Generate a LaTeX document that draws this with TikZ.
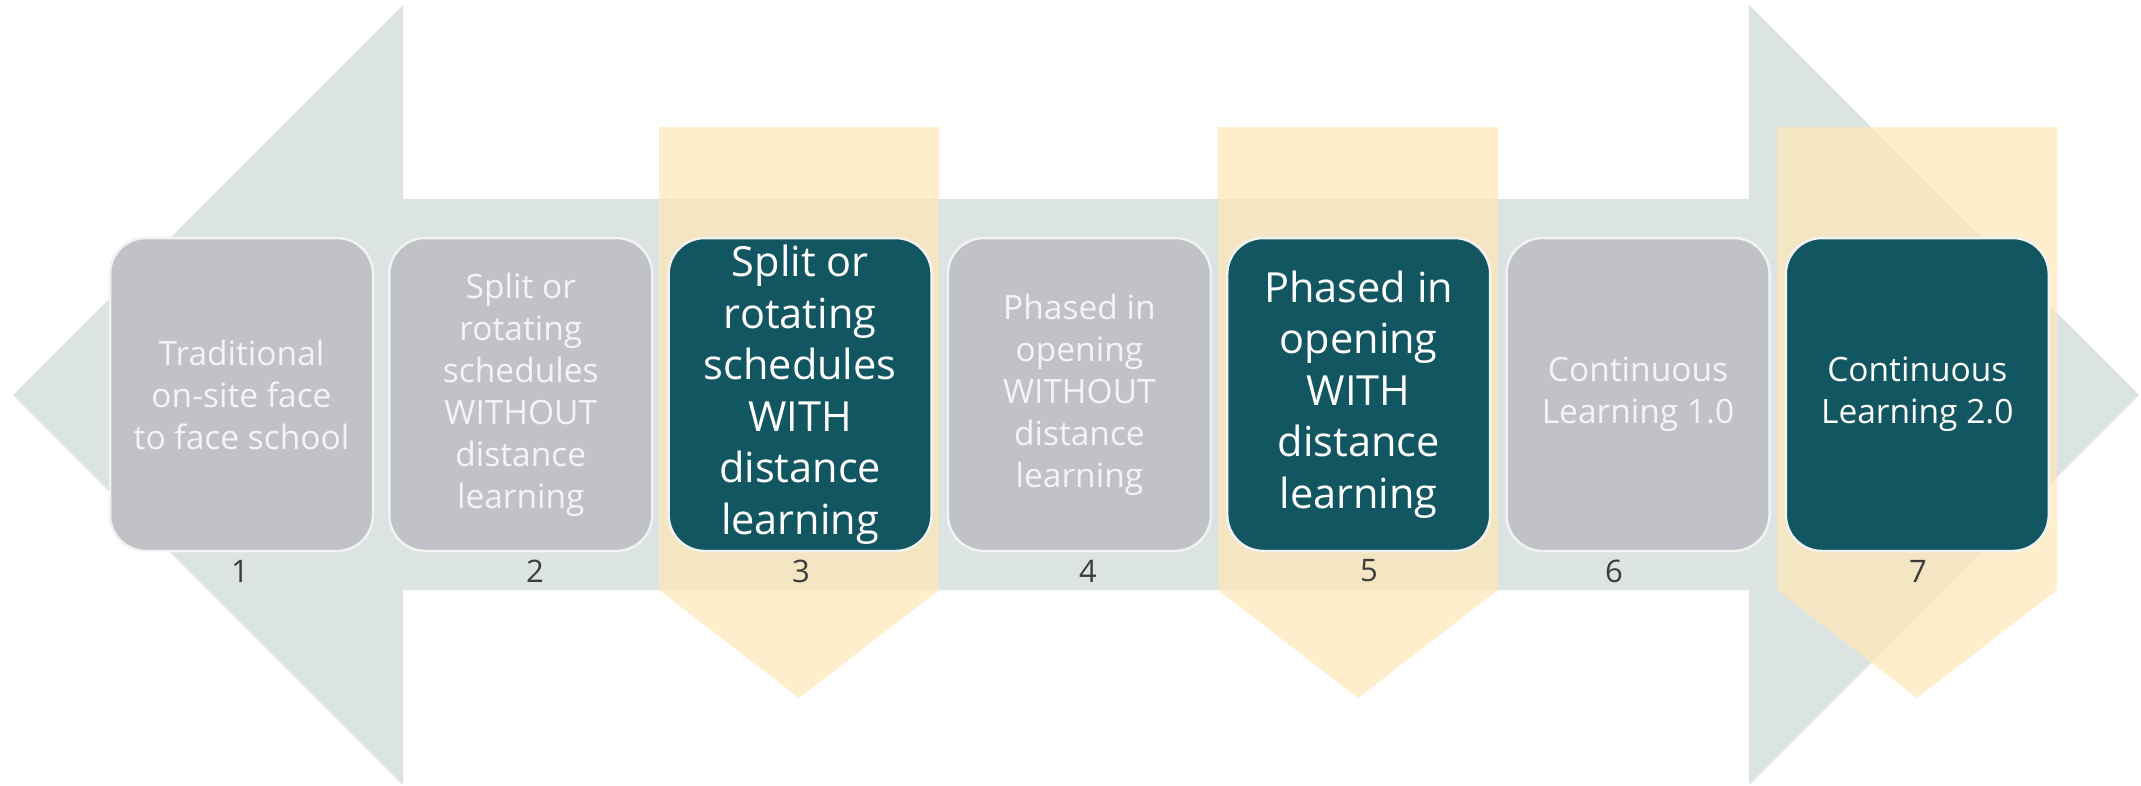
\documentclass[tikz,border=0pt]{standalone}
\usepackage{fontspec}
\setmainfont{Open Sans}
\definecolor{arrowgray}{RGB}{220,227,227}
\definecolor{boxgray}{RGB}{192,194,199}
\definecolor{boxteal}{RGB}{17,86,96}
\definecolor{boxedge}{RGB}{242,242,240}
\definecolor{paleyellow}{RGB}{255,232,182}
\definecolor{numgray}{RGB}{60,60,60}
\definecolor{graytext}{RGB}{244,244,244}
\tikzset{
  stage/.style={rounded corners=36pt, draw=boxedge, line width=2.5pt,
    minimum width=263pt, minimum height=313pt, inner sep=0pt, align=center,
    font=\fontsize{33.5}{42}\selectfont},
  lightstage/.style={stage, fill=boxgray, text=graytext},
  darkstage/.style={stage, fill=boxteal, text=white},
  bigtext/.style={font=\fontsize{41.5}{51.5}\selectfont},
  numlabel/.style={text=numgray, inner sep=0pt, font=\fontsize{31}{36}\selectfont},
  highlight/.style={fill=paleyellow, fill opacity=0.7, draw=none},
  bigarrow/.style={fill=arrowgray, draw=none}
}
\begin{document}
\begin{tikzpicture}[x=1pt,y=-1pt]
\useasboundingbox (0,0) rectangle (2141,785);
\fill[white] (0,0) rectangle (2141,785);
% double-headed background arrow
\path[bigarrow] (13,395) -- (403,5) -- (403,199) -- (1749,199) -- (1749,5)
  -- (2139,395) -- (1749,785) -- (1749,590) -- (403,590) -- (403,785) -- cycle;
% highlight pentagons
\path[highlight] (659,127) -- (939,127) -- (939,590) -- (799,698) -- (659,590) -- cycle;
\path[highlight] (1218,127) -- (1498,127) -- (1498,590) -- (1358,698) -- (1218,590) -- cycle;
\path[highlight] (1777,127) -- (2057,127) -- (2057,590) -- (1917,698) -- (1777,590) -- cycle;
% stage boxes
\node[lightstage] (b1) at (241.5,394.5) {Traditional\\on-site face\\to face school};
\node[lightstage] (b2) at (520.8,394.5) {Split or\\rotating\\schedules\\WITHOUT\\distance\\learning};
\node[darkstage,bigtext] (b3) at (800.1,394.5) {Split or\\rotating\\schedules\\WITH\\distance\\learning};
\node[lightstage] (b4) at (1079.4,394.5) {Phased in\\opening\\WITHOUT\\distance\\learning};
\node[darkstage,bigtext] (b5) at (1358.7,394.5) {Phased in\\opening\\WITH\\distance\\learning};
\node[lightstage] (b6) at (1638,394.5) {Continuous\\Learning 1.0};
\node[darkstage] (b7) at (1917.3,394.5) {Continuous\\Learning 2.0};
% numbers
\node[numlabel] (n1) at (240,571) {1};
\node[numlabel] (n2) at (535,571) {2};
\node[numlabel] (n3) at (801,571) {3};
\node[numlabel] (n4) at (1088,571) {4};
\node[numlabel] (n5) at (1369,571) {5};
\node[numlabel] (n6) at (1614,571) {6};
\node[numlabel] (n7) at (1918,571) {7};
\end{tikzpicture}
\end{document}
